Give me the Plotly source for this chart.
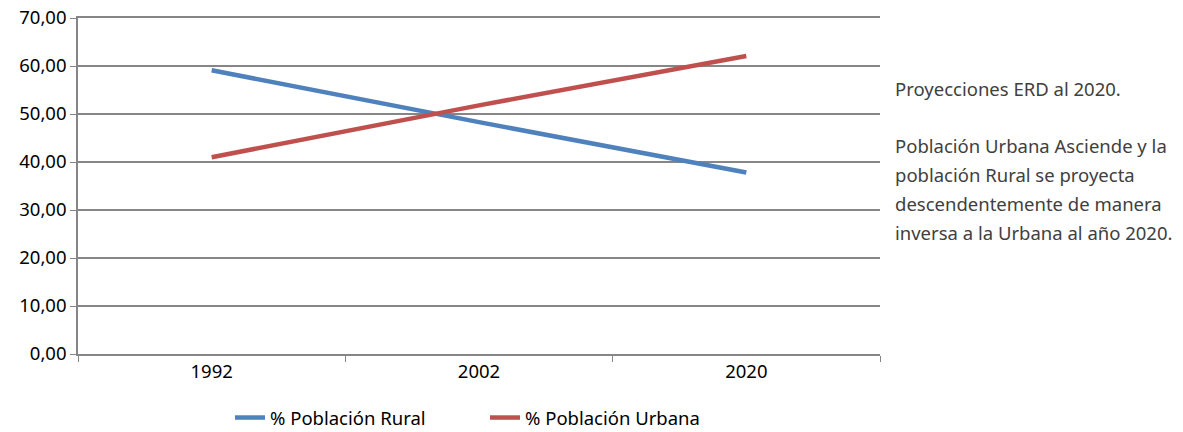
import plotly.graph_objects as go

years = ["1992", "2002", "2020"]
rural = [59.1, 48.3, 37.8]
urbana = [41.0, 51.8, 62.1]
series_names = ["% Población Rural", "% Población Urbana"]
side_text = [
    "Proyecciones ERD al 2020.",
    "Población Urbana Asciende y la",
    "población Rural se proyecta",
    "descendentemente de manera",
    "inversa a la Urbana al año 2020.",
]
side_y_px = [88, 145, 174, 203, 232]

FONT = "Noto Sans"
FS = 18.5
fig = go.Figure()
fig.add_trace(go.Scatter(x=years, y=rural, mode="lines", name=series_names[0],
                         line=dict(color="#4F81BD", width=4.5)))
fig.add_trace(go.Scatter(x=years, y=urbana, mode="lines", name=series_names[1],
                         line=dict(color="#C0504D", width=4.5)))

# page coordinates of the plot area (body margin removed)
PX0, PX1, PY0, PY1 = 78, 880, 18, 354
W, H = 1183, 432
L, T, R, B = PX0, PY0, W - PX1, H - PY1
pw, ph = PX1 - PX0, PY1 - PY0

for txt, ypx in zip(side_text, side_y_px):
    fig.add_annotation(text=txt, xref="paper", yref="paper",
                       x=(893 - PX0) / pw, y=(PY1 - ypx) / ph,
                       xanchor="left", yanchor="middle", showarrow=False,
                       font=dict(family=FONT, size=FS, color="#404040"))

fig.update_layout(
    width=W, height=H,
    margin=dict(l=L, r=R, t=T, b=B, autoexpand=False),
    paper_bgcolor="white", plot_bgcolor="white",
    separators=", ",
    font=dict(family=FONT, size=FS, color="#000000"),
    showlegend=True,
    legend=dict(orientation="h", x=(230 - PX0) / pw, xanchor="left",
                y=(PY1 - 418) / ph, yanchor="middle",
                font=dict(family=FONT, size=FS, color="#000000"),
                entrywidth=210, entrywidthmode="pixels",
                tracegroupgap=0),
)
fig.update_xaxes(type="category", range=[-0.5, 2.5], tickson="boundaries",
                 ticks="outside", ticklen=6, tickcolor="#868686",
                 showline=True, linecolor="#868686", linewidth=1.5, mirror=True,
                 showgrid=False, zeroline=False,
                 tickfont=dict(family=FONT, size=FS, color="#000000"))
fig.update_yaxes(range=[0, 70], dtick=10, tickformat=".2f",
                 ticks="outside", ticklen=6, tickcolor="#868686",
                 ticklabeloverflow="allow",
                 showline=True, linecolor="#868686", linewidth=1.5,
                 showgrid=True, gridcolor="#868686", gridwidth=1.5,
                 zeroline=False,
                 tickfont=dict(family=FONT, size=FS, color="#000000"))

fig.write_html("out.html", config={"displayModeBar": False},
               post_script="document.body.style.margin='0';document.body.style.overflow='hidden';")
